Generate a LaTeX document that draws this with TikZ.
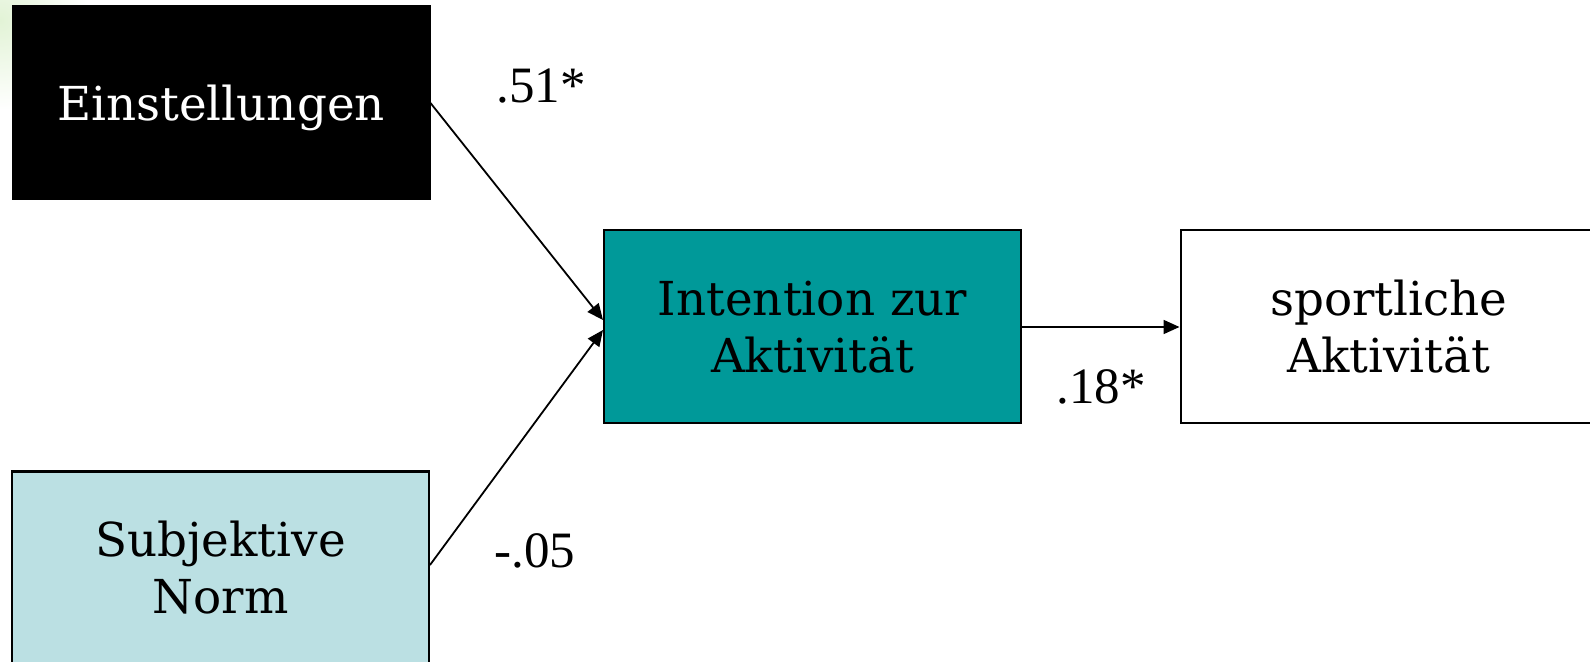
\documentclass[tikz,border=0pt]{standalone}
\usepackage{fontspec}
\setmainfont{DejaVu Serif}
\newfontfamily\labelfont{Liberation Serif}
\usetikzlibrary{arrows.meta}

\definecolor{teal}{RGB}{0,153,153}
\definecolor{paleblue}{RGB}{187,224,227}
\definecolor{palegreen}{RGB}{226,243,214}

\tikzset{
  box/.style={draw=black, line width=1pt, rectangle, minimum width=208.5pt,
    minimum height=96.5pt, inner sep=0pt, align=center,
    font=\fontsize{23.4}{28.5}\selectfont},
  coef/.style={inner sep=0pt, font=\labelfont\fontsize{25.5}{28}\selectfont},
  link/.style={line width=0.9pt, -{Triangle[length=8pt,width=7pt]}}
}

\begin{document}
\begin{tikzpicture}[x=0.5pt, y=-0.5pt]
  \useasboundingbox (0,0) rectangle (1590,662);
  \fill[white] (0,0) rectangle (1590,662);
  % soft green tint in the upper left corner
  \begin{scope}
    \clip (0,0) rectangle (1590,662);
    \shade[inner color=palegreen, outer color=white] (0,20) circle[radius=45pt];
  \end{scope}

  \node[box, fill=black, text=white, text depth=0pt] (E) at (221,103) {Einstellungen};
  \node[box, fill=teal] (I) at (812.5,327) {Intention zur\\Aktivität};
  \node[box, fill=white] (A) at (1389,327) {sportliche\\Aktivität};
  \node[box, fill=paleblue] (S) at (220.5,568) {Subjektive\\Norm};

  \draw[link] (E.east) -- ([yshift=3.5pt]I.west);
  \draw[link] ([yshift=1.5pt]S.east) -- ([yshift=-1.5pt]I.west);
  \draw[link] (I.east) -- (A.west);

  \node[coef, anchor=base west] (c1) at (496,103) {.51*};
  \node[coef, anchor=base west] (c2) at (494,567) {-.05};
  \node[coef, anchor=base west] (c3) at (1056,404) {.18*};
\end{tikzpicture}
\end{document}
